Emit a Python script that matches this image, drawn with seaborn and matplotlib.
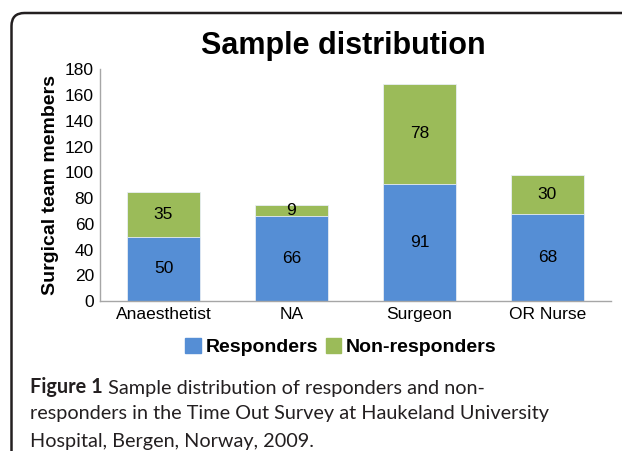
import matplotlib
matplotlib.use("Agg")
import matplotlib.pyplot as plt
import matplotlib.patches as mpatches
from matplotlib.transforms import IdentityTransform
import seaborn as sns

# data
groups = ["Anaesthetist", "NA", "Surgeon", "OR Nurse"]
responders = [50, 66, 91, 68]
non_responders = [35, 9, 78, 30]
totals = [r + n for r, n in zip(responders, non_responders)]

blue = "#558ed5"
green = "#9bbb59"

sns.set_style("white")
plt.rcParams["font.family"] = ["Liberation Sans", "DejaVu Sans"]
plt.rcParams["text.color"] = "black"
plt.rcParams["axes.labelcolor"] = "black"
plt.rcParams["xtick.color"] = "black"
plt.rcParams["ytick.color"] = "black"

fig = plt.figure(figsize=(6.22, 4.51), dpi=100)
ax = fig.add_axes([0.160, 0.3326, 0.823, 0.5133])

# stacked bars: totals in green behind, responders in blue on top
sns.barplot(x=groups, y=totals, color=green, width=0.57, saturation=1,
            edgecolor="#e8eef5", linewidth=0.6, ax=ax)
sns.barplot(x=groups, y=responders, color=blue, width=0.57, saturation=1,
            edgecolor="#e8eef5", linewidth=0.6, ax=ax)

for i, (r, n) in enumerate(zip(responders, non_responders)):
    ax.text(i, r / 2, str(r), ha="center", va="center", fontsize=12.5)
    ax.text(i, r + n / 2, str(n), ha="center", va="center", fontsize=12.5)

ax.set_ylim(0, 180)
ax.set_yticks(range(0, 181, 20))
ax.set_xlim(-0.5, 3.5)
ax.tick_params(axis="both", length=0, labelsize=12.5, pad=4)
ax.set_ylabel("Surgical team members", fontsize=14, fontweight="bold", labelpad=4)
ax.set_xlabel("")
sns.despine(ax=ax)
for s in ["left", "bottom"]:
    ax.spines[s].set_color("#a6a6a6")
    ax.spines[s].set_linewidth(1)

fig.text(0.552, 0.898, "Sample distribution", ha="center", va="center",
         fontsize=22, fontweight="bold")

handles = [mpatches.Patch(color=blue, label="Responders"),
           mpatches.Patch(color=green, label="Non-responders")]
fig.legend(handles=handles, loc="center", bbox_to_anchor=(0.548, 0.231), ncol=2,
           frameon=False, handlelength=0.8, handleheight=0.8, handletextpad=0.25,
           columnspacing=0.4, prop={"weight": "bold", "size": 14})

# rounded frame (top and left edges only visible)
frame = mpatches.FancyBboxPatch((11.5, -40), 700, 438 + 40, boxstyle="round,pad=0,rounding_size=13",
                                transform=IdentityTransform(), fill=False,
                                edgecolor="#231f20", linewidth=1.8, clip_on=False)
fig.patches.append(frame)

# caption
cap_font = ["Lato", "DejaVu Sans"]
cap_size = 14.3
cap_color = "#231f20"
lines_y = [1 - 387 / 451, 1 - 414 / 451, 1 - 441 / 451]
t = fig.text(30 / 622, lines_y[0], "Figure 1", fontsize=cap_size, fontweight="bold",
             family=cap_font, va="center", color=cap_color)
ax.annotate(" Sample distribution of responders and non-", xy=(1, 0), xycoords=t,
            va="bottom", ha="left", fontsize=cap_size, family=cap_font, color=cap_color,
            annotation_clip=False)
fig.text(30 / 622, lines_y[1], "responders in the Time Out Survey at Haukeland University",
         fontsize=cap_size, family=cap_font, va="center", color=cap_color)
fig.text(30 / 622, lines_y[2], "Hospital, Bergen, Norway, 2009.",
         fontsize=cap_size, family=cap_font, va="center", color=cap_color)

fig.savefig("out.png", dpi=100)
